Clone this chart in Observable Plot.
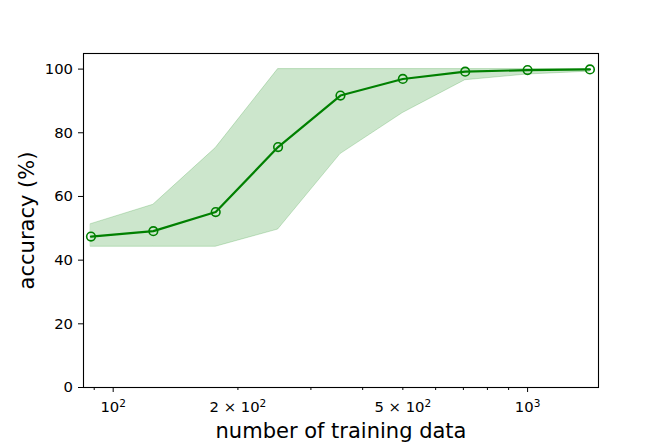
<!DOCTYPE html>
<html><head><meta charset="utf-8">
<script src="https://cdn.jsdelivr.net/npm/d3@7"></script>
<script src="https://cdn.jsdelivr.net/npm/@observablehq/plot@0.6"></script>
<style>body{margin:0;background:#fff} svg{font-family:"DejaVu Sans"}
svg g[aria-label$="tick label"] text{font-size:14.8px}
svg g[aria-label$="axis label"] text{font-size:21px}
</style>
</head><body><div id="chart"></div>
<script>
const trainSizes = [88.39, 125, 176.78, 250, 353.55, 500, 707.1, 1000, 1414.2];
const meanAcc = [47.4, 49.1, 55.1, 75.5, 91.7, 96.9, 99.2, 99.7, 99.9];
const upperAcc = [51.3, 57.4, 75.2, 100, 100, 100, 100, 100, 100];
const lowerAcc = [44.2, 44.2, 44.2, 49.6, 73.3, 86.2, 96.5, 98.3, 99.2];
const xMajorTicks = [100, 1000];
const xMajorLabels = {100: "10^2", 1000: "10^3"};
const xMinorTicks = [90, 200, 300, 400, 500, 600, 700, 800, 900];
const xMinorLabels = {200: "2 × 10^2", 500: "5 × 10^2"};
const yTicks = [0, 20, 40, 60, 80, 100];

const data = trainSizes.map((x, i) => ({x, mean: meanAcc[i], hi: upperAcc[i], lo: lowerAcc[i]}));

const chart = Plot.plot({
  width: 664, height: 443,
  marginLeft: 83, marginRight: 66, marginTop: 53, marginBottom: 56,
  style: {fontFamily: "DejaVu Sans", fontSize: "14.8px", background: "white", color: "black"},
  x: {type: "log", domain: [84.8, 1483]},
  y: {domain: [0, 104.9]},
  marks: [
    Plot.areaY(data, {x: "x", y1: "lo", y2: "hi", fill: "green", fillOpacity: 0.2, stroke: "green", strokeOpacity: 0.2, strokeWidth: 1}),
    Plot.lineY(data, {x: "x", y: "mean", stroke: "green", strokeWidth: 2.2}),
    Plot.dot(data, {x: "x", y: "mean", r: 4.3, stroke: "green", strokeWidth: 1.6, fill: "none"}),
    Plot.frame({stroke: "black", strokeWidth: 1.1}),
    Plot.axisY({ticks: yTicks, tickSize: 5, tickPadding: 5.5, label: "accuracy (%)", labelArrow: "none", labelAnchor: "center", labelOffset: 64}),
    Plot.axisX({ticks: xMajorTicks, tickFormat: d => xMajorLabels[d], tickSize: 5, tickPadding: 8.5, label: "number of training data", labelArrow: "none", labelAnchor: "center", labelOffset: 50}),
    Plot.axisX({ticks: xMinorTicks, tickFormat: d => xMinorLabels[d] || "", tickSize: 3, tickPadding: 10.5, label: null})
  ]
});
const svg = d3.select(chart);
svg.selectAll('[aria-label="x-axis tick label"] text').each(function() {
  const t = this.textContent;
  const k = t.indexOf("^");
  if (k < 0) return;
  const el = d3.select(this);
  el.text(null);
  el.append("tspan").text(t.slice(0, k));
  el.append("tspan").attr("font-size", 10.5).attr("dy", "-0.45em").text(t.slice(k + 1));
});
svg.selectAll('[aria-label="x-axis label"] text').text(function(){return this.textContent.replace(/\s*[→←]$/, "");});
svg.selectAll('[aria-label="y-axis label"] text').text(function(){return this.textContent.replace(/\s*[↑↓→←]$/, "");});
document.getElementById("chart").append(chart);
</script></body></html>
